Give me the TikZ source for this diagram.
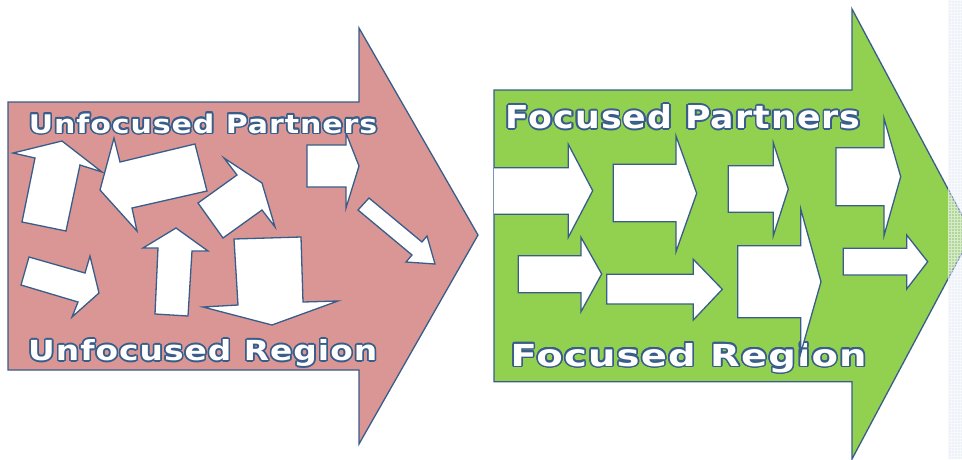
\documentclass[tikz,border=0pt]{standalone}
\usepackage{fontspec}
\usepackage{contour}
\newfontfamily\bannerfont[LetterSpace=3.0]{DejaVu Sans}
\contourlength{1.6pt}
\definecolor{edgeblue}{HTML}{385D8A}
\definecolor{unfocusedfill}{HTML}{D99694}
\definecolor{focusedfill}{HTML}{92D050}
\definecolor{stripblue}{HTML}{D6E0F0}
\newcommand{\bannertext}[3]{\contour{edgeblue}{\resizebox{#1}{#2}{\bannerfont\bfseries #3}}}
\begin{document}
\begin{tikzpicture}[x=1pt,y=-1pt]
    \tikzstyle{outline} = [draw=edgeblue, line width=1.3pt, line join=miter]
    \tikzstyle{unfocused} = [outline, fill=unfocusedfill]
    \tikzstyle{focused} = [outline, fill=focusedfill]
    \tikzstyle{pointer} = [outline, fill=white]
    \tikzstyle{banner} = [anchor=base west, inner sep=0pt, text=white]
    \useasboundingbox (0,0) rectangle (962,459);

    \draw[unfocused] (8,102) -- (359,102) -- (359,28) -- (478,235) -- (359,444) -- (359,370) -- (8,370) -- cycle;
    \draw[pointer] (13,153) -- (62,141) -- (102,172) -- (80,165) -- (66,231) -- (22,222) -- (35,158) -- cycle;
    \draw[pointer] (100,190) -- (114,138) -- (120,162) -- (195,144) -- (207,191) -- (132,208) -- (137,231) -- cycle;
    \draw[pointer] (224,158) -- (262,183) -- (275,227) -- (262,210) -- (223,238) -- (198,203) -- (237,175) -- cycle;
    \draw[pointer] (307,145) -- (346,145) -- (346,133) -- (359,166) -- (346,208) -- (346,187) -- (307,187) -- cycle;
    \draw[pointer] (369,198) -- (422,242) -- (427,236) -- (435,264) -- (406,262) -- (412,255) -- (358,210) -- cycle;
    \draw[pointer] (29,257) -- (85,273) -- (90,256) -- (99,293) -- (72,317) -- (78,302) -- (21,285) -- cycle;
    \draw[pointer] (176,228) -- (208,251) -- (192,251) -- (188,316) -- (155,314) -- (158,248) -- (143,248) -- cycle;
    \draw[pointer] (234,239) -- (301,237) -- (303,302) -- (338,301) -- (272,325) -- (203,307) -- (238,305) -- cycle;
    \node[banner] (unfocusedpartners) at (28.6,133) {\bannertext{348.5pt}{19.5pt}{Unfocused Partners}};
    \node[banner] (unfocusedregion) at (28,360.5) {\bannertext{349pt}{21pt}{Unfocused Region}};

    \draw[focused] (494,90) -- (852,90) -- (852,9) -- (972,234) -- (852,459) -- (852,381.7) -- (494,381.7) -- cycle;
    \node[banner] (focusedpartners) at (505.3,128.5) {\bannertext{355pt}{24pt}{Focused Partners}};
    \node[banner] (focusedregion) at (510.3,366) {\bannertext{356pt}{23pt}{Focused Region}};
    \fill[white] (494,167.7) -- (568.3,167.7) -- (568.3,144.3) -- (592.7,190.7) -- (568.3,237.3) -- (568.3,214.3) -- (494,214.3) -- cycle;
    \draw[outline] (494,167.7) -- (568.3,167.7) -- (568.3,144.3) -- (592.7,190.7) -- (568.3,237.3) -- (568.3,214.3) -- (494,214.3);
    \foreach \xa/\ya/\xb/\yb/\xc/\yc/\yd/\ye in {613.3/164.3/676/136/696.7/193.3/251.7/221.7,
        728.3/165.7/773.3/142.7/788.3/189/235.7/212.3, 836/147.7/884/118.3/900.7/176.7/235.7/205.7,
        518.3/255.7/581/237.3/601.7/274/311.7/292.7, 606.7/274.3/693.3/259.3/722.3/289.3/320/304,
        737.7/245.7/800.7/209/821/281.7/353.3/317.7, 843.3/248.3/906.7/235/927.7/261.7/289/275} {
        \draw[pointer] (\xa,\ya) -- (\xb,\ya) -- (\xb,\yb) -- (\xc,\yc) -- (\xb,\yd) -- (\xb,\ye) -- (\xa,\ye) -- cycle;
    }

    \fill[stripblue, opacity=0.45] (948,0) rectangle (962,459);
    \draw[white, line width=0.5pt, opacity=0.5, step=3pt] (948,0) grid (962,459);
\end{tikzpicture}
\end{document}
